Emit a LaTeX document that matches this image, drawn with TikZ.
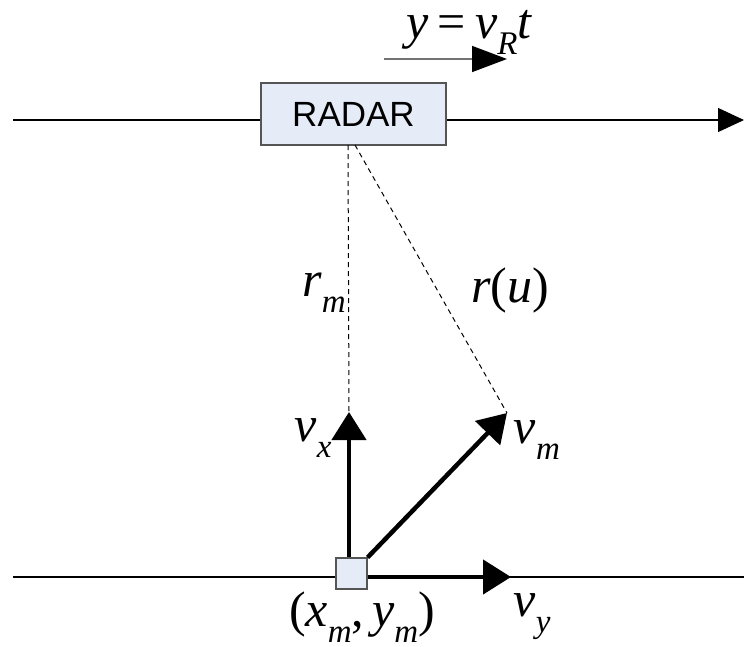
\documentclass[tikz,border=0pt]{standalone}
\usepackage{fontspec}
\setmainfont{Liberation Serif}
\newfontfamily\radarfont{Liberation Sans}
\usetikzlibrary{arrows.meta}
\newcommand{\sbs}[1]{\raisebox{-0.32em}{\fontsize{33}{33}\selectfont #1}}
\definecolor{boxfill}{HTML}{E6ECF7}
\definecolor{boxline}{HTML}{555555}
\tikzset{
  thinline/.style={line width=1.1pt, black},
  vecarrow/.style={line width=4.5pt, -{Triangle[length=28pt,width=34pt]}},
  dashline/.style={line width=1pt, dash pattern=on 5pt off 4pt},
  lbl/.style={inner sep=0pt, font=\fontsize{50}{54}\selectfont\itshape},
}
\begin{document}
\begin{tikzpicture}[x=1pt,y=-1pt]
\useasboundingbox (0,0) rectangle (744,646);
% top track
\coordinate (tl) at (13,120);
\coordinate (tr) at (744,120);
\draw[thinline, -{Triangle[length=26pt,width=24pt]}] (tl) -- (tr);
\node[draw=boxline, line width=1.2pt, fill=boxfill, minimum width=185pt, minimum height=62pt, inner sep=0pt, font=\radarfont\fontsize{35}{36}\selectfont] (radar) at (353.5,114) {RADAR};
% small motion arrow
\coordinate (ma) at (384,59);
\coordinate (mb) at (507,59);
\draw[line width=1.5pt, color=black!55, -{Triangle[length=35pt,width=26pt, color=black]}] (ma) -- (mb);
\node[lbl] (eq) at (469,32) {y\hspace{9pt}\upshape=\hspace{9pt}\itshape v\sbs{R}t};
% bottom track
\coordinate (bl) at (13,577);
\coordinate (br) at (744,577);
\draw[thinline] (bl) -- (br);
% dashed range lines
\coordinate (ra) at (348,145);
\coordinate (rb) at (355,145);
\coordinate (vxtip) at (349,412);
\coordinate (vmtip) at (507,413);
\draw[dashline] (ra) -- (vxtip);
\draw[dashline] (rb) -- (vmtip);
% target
\node[draw=boxline, line width=1.2pt, fill=boxfill, minimum width=31pt, minimum height=31pt, inner sep=0pt] (tgt) at (351.5,573.5) {};
\coordinate (vytip) at (511,577);
\draw[vecarrow] (tgt.north -| vxtip) -- (vxtip);
\draw[vecarrow] (tgt.north east) -- (vmtip);
\draw[vecarrow] (tgt.east |- vytip) -- (vytip);
% labels
\node[lbl] (lrm) at (324,293) {r\sbs{m}};
\node[lbl] (lru) at (510,290) {r\upshape(\itshape u\upshape)};
\node[lbl] (lvx) at (313,438) {v\sbs{x}};
\node[lbl] (lvm) at (537,440) {v\sbs{m}};
\node[lbl] (lvy) at (532,617) {v\sbs{y}};
\node[lbl] (lxy) at (362,617) {\upshape(\itshape x\sbs{m}\upshape,\hspace{8pt}\itshape y\sbs{m}\upshape)};
\end{tikzpicture}
\end{document}
